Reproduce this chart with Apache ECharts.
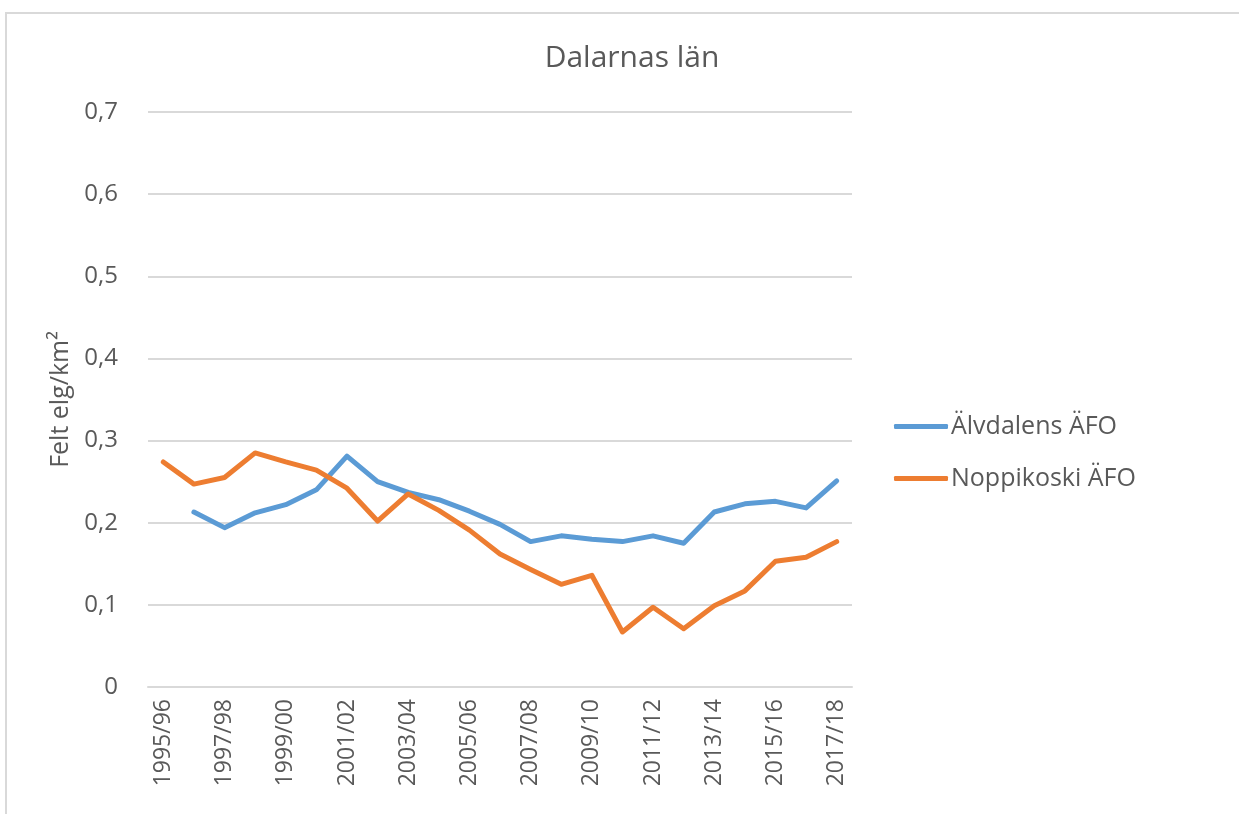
<!DOCTYPE html>
<html>
<head>
<meta charset="utf-8">
<script src="https://cdn.jsdelivr.net/npm/echarts@6/dist/echarts.min.js"></script>
<style>
  html, body { margin: 0; padding: 0; background: #fff; }
  #chart { width: 1239px; height: 814px; }
</style>
</head>
<body>
<div id="chart"></div>
<script>
const seasons = [
  "1995/96", "1996/97", "1997/98", "1998/99", "1999/00", "2000/01", "2001/02", "2002/03",
  "2003/04", "2004/05", "2005/06", "2006/07", "2007/08", "2008/09", "2009/10", "2010/11",
  "2011/12", "2012/13", "2013/14", "2014/15", "2015/16", "2016/17", "2017/18"
];
// Älvdalens ÄFO (no value for first season)
const alvdalen = [
  null, 0.213, 0.194, 0.212, 0.222, 0.240, 0.281, 0.250,
  0.237, 0.228, 0.214, 0.198, 0.177, 0.184, 0.180, 0.177,
  0.184, 0.175, 0.213, 0.223, 0.226, 0.218, 0.251
];
// Noppikoski ÄFO
const noppikoski = [
  0.274, 0.247, 0.255, 0.285, 0.274, 0.264, 0.242, 0.202,
  0.235, 0.215, 0.191, 0.162, 0.143, 0.125, 0.136, 0.067,
  0.097, 0.071, 0.099, 0.117, 0.153, 0.158, 0.177
];

const font = "'Open Sans', sans-serif";
const grey = "#595959";

let chart = echarts.init(document.getElementById("chart"));
chart.setOption({
  animation: false,
  textStyle: { fontFamily: font },
  graphic: [{
    type: "rect",
    shape: { x: 6, y: 13, width: 1300, height: 900 },
    style: { fill: "none", stroke: "#d9d9d9", lineWidth: 2 },
    silent: true
  }],
  title: {
    text: "Dalarnas län",
    left: 627,
    textAlign: "center",
    top: 38,
    textStyle: { fontFamily: font, fontSize: 30, fontWeight: "normal", color: grey }
  },
  legend: {
    orient: "vertical",
    left: 889,
    top: 409,
    itemWidth: 54,
    itemHeight: 5,
    itemGap: 27,
    icon: "roundRect",
    textStyle: { fontFamily: font, fontSize: 25, color: grey, padding: [0, 0, 0, -2] },
    data: ["Älvdalens ÄFO", "Noppikoski ÄFO"]
  },
  grid: { left: 148, right: 387, top: 112, bottom: 127, containLabel: false },
  xAxis: {
    type: "category",
    data: seasons,
    boundaryGap: true,
    axisLine: { lineStyle: { color: "#d9d9d9", width: 2 } },
    axisTick: { show: false },
    axisLabel: {
      interval: 1,
      rotate: 90,
      margin: 12,
      fontFamily: font,
      fontSize: 23,
      color: grey
    }
  },
  yAxis: {
    type: "value",
    min: 0,
    max: 0.7,
    interval: 0.1,
    name: "Felt elg/km²",
    nameLocation: "middle",
    nameGap: 72,
    nameTextStyle: { fontFamily: font, fontSize: 25, color: grey },
    axisLine: { show: false },
    axisTick: { show: false },
    splitLine: { lineStyle: { color: "#d9d9d9", width: 2 } },
    axisLabel: {
      margin: 30,
      fontFamily: font,
      fontSize: 24,
      color: grey,
      formatter: v => (v === 0 ? "0" : v.toFixed(1).replace(".", ","))
    }
  },
  series: [
    {
      name: "Älvdalens ÄFO",
      type: "line",
      data: alvdalen,
      showSymbol: false,
      color: "#5B9BD5",
      lineStyle: { width: 5, cap: "round", join: "round" }
    },
    {
      name: "Noppikoski ÄFO",
      type: "line",
      data: noppikoski,
      showSymbol: false,
      color: "#ED7D31",
      lineStyle: { width: 5, cap: "round", join: "round" }
    }
  ]
});
</script>
</body>
</html>
